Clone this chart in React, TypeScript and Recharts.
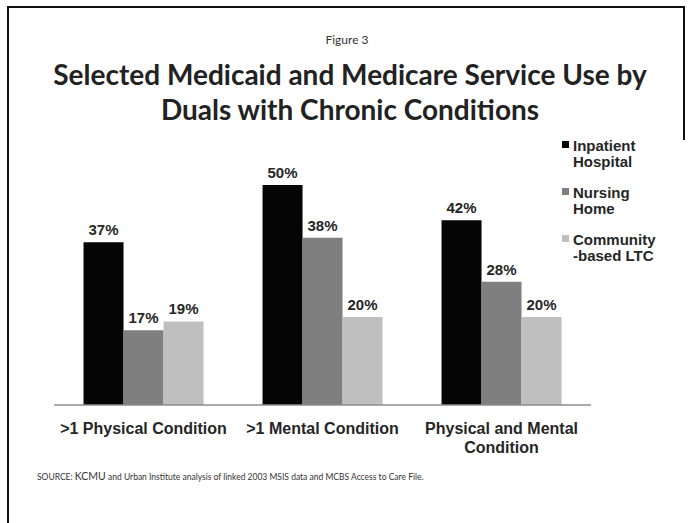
import React from 'react';
import { BarChart, Bar, XAxis, YAxis, LabelList, Text } from 'recharts';

const categories = ['>1 Physical Condition', '>1 Mental Condition', 'Physical and Mental Condition'];
const inpatientHospital = [37, 50, 42];
const nursingHome = [17, 38, 28];
const communityLTC = [19, 20, 20];

const seriesNames = ['Inpatient Hospital', 'Nursing Home', 'Community -based LTC'];
const seriesKeys = ['inpatient', 'nursing', 'community'];
const seriesColors = ['#050505', '#7f7f7f', '#bfbfbf'];

const data = categories.map((name, i) => ({
  name,
  inpatient: inpatientHospital[i],
  nursing: nursingHome[i],
  community: communityLTC[i],
}));

const ARIAL = '"Liberation Sans", Arial, sans-serif';
const CALIBRI = 'Lato, "Open Sans", sans-serif';

const CategoryTick = ({ x, y, payload }: any) => (
  <Text
    x={x}
    y={y + 10}
    width={175}
    textAnchor="middle"
    verticalAnchor="start"
    lineHeight={19}
    fill="#262626"
    style={{ fontFamily: ARIAL, fontSize: 16, fontWeight: 700 }}
  >
    {payload.value}
  </Text>
);

const ChartLegend = () => (
  <div style={{ position: 'absolute', left: 562, top: 138, width: 110 }}>
    {seriesNames.map((name, i) => (
      <div key={name} style={{ position: 'relative', height: 47 }}>
        <div
          style={{ position: 'absolute', left: 0, top: 3, width: 7, height: 7, background: seriesColors[i] }}
        />
        <div
          style={{
            position: 'absolute',
            left: 11,
            top: 0,
            width: 88,
            fontFamily: ARIAL,
            fontSize: 15,
            fontWeight: 700,
            lineHeight: '16px',
            color: '#262626',
          }}
        >
          {name}
        </div>
      </div>
    ))}
  </div>
);

export default function App() {
  return (
    <div style={{ position: 'absolute', left: 0, top: 0, width: 694, height: 523, background: '#fff', overflow: 'hidden' }}>
      {/* slide frame */}
      <div style={{ position: 'absolute', left: 7, top: 6, width: 677, height: 2, background: '#111' }} />
      <div style={{ position: 'absolute', left: 7, top: 6, width: 2, height: 517, background: '#111' }} />
      <div style={{ position: 'absolute', left: 683, top: 6, width: 2, height: 134, background: '#111' }} />

      <div style={{ position: 'absolute', left: 0, width: 694, top: 32, textAlign: 'center', fontFamily: CALIBRI, fontSize: 12, color: '#333' }}>
        Figure 3
      </div>
      <div
        style={{
          position: 'absolute',
          left: 0,
          width: 700,
          top: 57,
          textAlign: 'center',
          fontFamily: CALIBRI,
          fontSize: 28,
          fontWeight: 700,
          lineHeight: '35px',
          color: '#222',
        }}
      >
        Selected Medicaid and Medicare Service Use by
        <br />
        Duals with Chronic Conditions
      </div>

      <div style={{ position: 'absolute', left: 0, top: 0 }}>
        <BarChart
          width={694}
          height={523}
          data={data}
          margin={{ top: 141, right: 103, bottom: 58, left: 54 }}
          barCategoryGap="16.5%"
          barGap={0}
        >
          <XAxis
            dataKey="name"
            height={60}
            tickLine={false}
            axisLine={{ stroke: '#8c8c8c', strokeWidth: 1.5 }}
            tick={<CategoryTick />}
            interval={0}
          />
          <YAxis hide width={0} domain={[0, 60]} />
          {seriesKeys.map((key, i) => (
            <Bar key={key} dataKey={key} name={seriesNames[i]} fill={seriesColors[i]} isAnimationActive={false}>
              <LabelList
                dataKey={key}
                position="top"
                offset={7}
                formatter={(v: any) => `${v}%`}
                fill="#262626"
                style={{ fontFamily: ARIAL, fontSize: 15, fontWeight: 700 }}
              />
            </Bar>
          ))}
        </BarChart>
      </div>

      <ChartLegend />

      <div style={{ position: 'absolute', left: 37, top: 470, fontFamily: CALIBRI, fontSize: 8.5, color: '#333', whiteSpace: 'nowrap' }}>
        SOURCE: <span style={{ fontSize: 10.5 }}>KCMU</span> and Urban Institute analysis of linked 2003 MSIS data and MCBS Access to Care File.
      </div>
    </div>
  );
}
